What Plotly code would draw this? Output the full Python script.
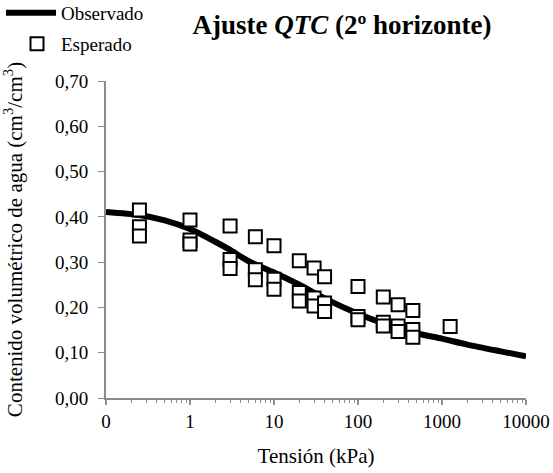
import plotly.graph_objects as go

curve_x = [0.1, 0.25, 0.5, 1, 2, 3, 5, 10, 20, 40, 100, 200, 500, 1000, 2000, 5000, 10000]
curve_y = [0.411, 0.404, 0.392, 0.373, 0.345, 0.327, 0.302, 0.277, 0.250, 0.220, 0.186, 0.165, 0.143, 0.131, 0.118, 0.103, 0.092]

# Expected points
pts_x = [0.25, 0.25, 0.25, 1, 1, 1, 3, 3, 3, 6, 6, 6, 10, 10, 10,
         20, 20, 20, 30, 30, 30, 40, 40, 40, 100, 100, 100,
         200, 200, 200, 300, 300, 300, 450, 450, 450, 1250]
pts_y = [0.415, 0.378, 0.358, 0.393, 0.349, 0.340, 0.380, 0.306, 0.286,
         0.356, 0.283, 0.261, 0.336, 0.262, 0.240,
         0.303, 0.233, 0.214, 0.287, 0.221, 0.203, 0.268, 0.210, 0.191,
         0.246, 0.180, 0.173, 0.223, 0.167, 0.159, 0.206, 0.159, 0.147,
         0.193, 0.151, 0.134, 0.158]

x_tickvals = [0.1, 1, 10, 100, 1000, 10000]
x_ticktext = ["0", "1", "10", "100", "1000", "10000"]
y_tickvals = [0.0, 0.1, 0.2, 0.3, 0.4, 0.5, 0.6, 0.7]
y_ticktext = ["0,00", "0,10", "0,20", "0,30", "0,40", "0,50", "0,60", "0,70"]

minor_vals = [m * 10 ** e for e in range(-1, 4) for m in range(2, 10)]

FONT = "Liberation Serif"
AXC = "#8c8c8c"

L, R, T, B = 106, 27, 81, 75
PW = 553 - L - R
PH = 473 - T - B


def px_to_paper_x(px):
    return (px - L) / PW


def px_to_paper_y(py):
    return 1 + (T - py) / PH


fig = go.Figure()
fig.add_trace(go.Scatter(x=curve_x, y=curve_y, mode="lines", name="Observado",
                         legend="legend",
                         line=dict(color="black", width=6, shape="spline", smoothing=0.8)))
fig.add_trace(go.Scatter(x=pts_x, y=pts_y, mode="markers", name="Esperado",
                         legend="legend2",
                         marker=dict(symbol="square", size=13, color="white",
                                     line=dict(color="black", width=2))))

fig.update_layout(
    width=553, height=473,
    margin=dict(l=L, r=R, t=T, b=B, autoexpand=False),
    paper_bgcolor="white", plot_bgcolor="white",
    font=dict(family=FONT, size=19, color="black"),
    title=dict(text="<b>Ajuste <i>QTC</i> (2º horizonte)</b>", x=342/553, xanchor="center",
               y=1 - 25/473, yanchor="middle", font=dict(size=27, family=FONT)),
    showlegend=True,
    legend=dict(x=px_to_paper_x(1), y=px_to_paper_y(13), xanchor="left", yanchor="middle",
                font=dict(size=19, family=FONT), bgcolor="rgba(0,0,0,0)", itemwidth=50),
    legend2=dict(x=px_to_paper_x(13), y=px_to_paper_y(44), xanchor="left", yanchor="middle",
                 font=dict(size=19, family=FONT), bgcolor="rgba(0,0,0,0)", itemwidth=38),
    xaxis=dict(type="log", range=[-1, 4], tickmode="array", tickvals=x_tickvals,
               ticktext=x_ticktext, showgrid=False, zeroline=False, automargin=False,
               showline=True, linecolor=AXC, linewidth=2,
               ticks="outside", ticklen=5, tickcolor=AXC, tickwidth=2,
               tickfont=dict(size=19, family=FONT),
               minor=dict(tickmode="array", tickvals=minor_vals, ticks="outside",
                          ticklen=3, tickcolor=AXC, tickwidth=1, showgrid=False),
               title=dict(text="Tensión (kPa)", font=dict(size=21, family=FONT), standoff=18)),
    xaxis2=dict(type="log", range=[-1, 4], overlaying="x", anchor="y", side="bottom",
                tickmode="array", tickvals=x_tickvals, showticklabels=False,
                showgrid=False, zeroline=False, showline=False, automargin=False,
                ticks="inside", ticklen=5, tickcolor=AXC, tickwidth=2,
                minor=dict(tickmode="array", tickvals=minor_vals, ticks="inside",
                           ticklen=2, tickcolor=AXC, tickwidth=1, showgrid=False)),
    yaxis=dict(range=[0, 0.7], tickmode="array", tickvals=y_tickvals, ticktext=y_ticktext,
               showgrid=False, zeroline=False, showline=True, linecolor=AXC, linewidth=2,
               ticks="outside", ticklen=6, tickcolor=AXC, tickwidth=1, automargin=False,
               ticklabelstandoff=6,
               tickfont=dict(size=19, family=FONT),
               title=dict(text="Contenido volumétrico de agua (cm<sup>3</sup>/cm<sup>3</sup>)",
                          font=dict(size=21, family=FONT), standoff=30)),
)

fig.write_html("out.html")
